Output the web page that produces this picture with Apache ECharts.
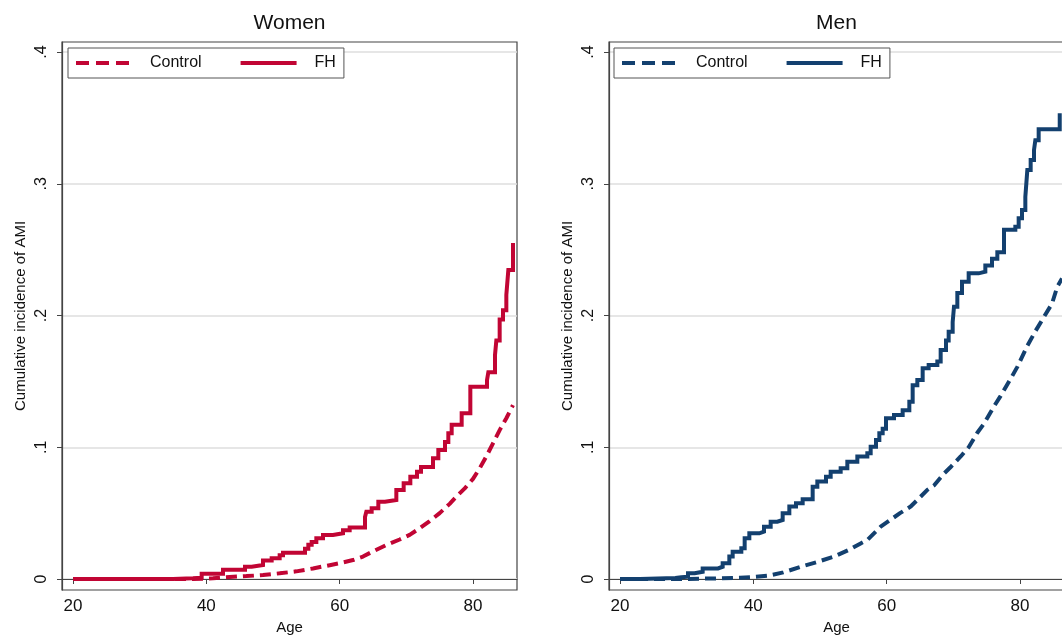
<!DOCTYPE html>
<html>
<head>
<meta charset="utf-8">
<script src="https://cdn.jsdelivr.net/npm/echarts@6/dist/echarts.min.js"></script>
<style>
html,body{margin:0;padding:0;background:#fff;}
#chart{width:1062px;height:637px;}
</style>
</head>
<body>
<div id="chart"></div>
<script>
// ---- Data ----
const panelTitles = ['Women', 'Men'];
const seriesNames = ['Control', 'FH'];
const xTickValues = [20, 40, 60, 80];
const yTickValues = [0, 0.1, 0.2, 0.3, 0.4];
const yTickLabels = ['0', '.1', '.2', '.3', '.4'];

// Women: [age, cumulative incidence]
const womenControl = [
  [20,0],[38,0],[41,0.0005],[43.5,0.0015],[46,0.0022],[48.5,0.003],[51,0.0043],[53.5,0.0058],
  [56,0.008],[58.5,0.0105],[60,0.012],[62,0.0144],[63.5,0.017],[65,0.021],[67,0.0258],
  [69,0.030],[70.5,0.0335],[72,0.0385],[73.5,0.044],[75,0.050],[76.5,0.057],[77.5,0.0625],
  [78.8,0.069],[80,0.076],[81,0.084],[82,0.093],[83,0.103],[84,0.113],[85,0.122],[86,0.132]
];
const womenFH = [
  [20,0],[35,0.0005],[38,0.001],[39.3,0.004],[42.5,0.007],[45.8,0.0093],[46.8,0.0106],
  [48.5,0.014],[49.8,0.0157],[51,0.018],[51.5,0.02],[54.8,0.023],[55.3,0.026],[55.8,0.028],
  [56.5,0.031],[57.5,0.0334],[59,0.0347],[60.5,0.037],[61.5,0.039],[63.8,0.047],[64,0.051],
  [64.8,0.0537],[65.8,0.0587],[66.8,0.06],[68.5,0.0675],[69.6,0.0726],[70.6,0.0777],
  [71.6,0.0815],[72.2,0.085],[74,0.0916],[74.8,0.098],[75.8,0.104],[76.3,0.1106],[76.8,0.117],
  [78.3,0.1258],[79.6,0.146],[82.1,0.151],[82.3,0.157],[83.3,0.170],[83.5,0.181],[84,0.197],
  [84.5,0.204],[85,0.2156],[85.3,0.2345],[86,0.255]
];
// Men
const menControl = [
  [20,0],[29.6,0],[35,0.0005],[38,0.001],[40,0.0015],[42.2,0.0025],[44.5,0.005],[47.1,0.0093],
  [49.5,0.0128],[52.1,0.017],[54.5,0.0225],[56.1,0.027],[57.1,0.0296],[59.1,0.0397],[60.6,0.045],
  [62,0.050],[63.6,0.055],[64.6,0.060],[66.1,0.0676],[67.1,0.071],[68.6,0.080],[69.6,0.085],
  [71.1,0.093],[72.3,0.100],[73.6,0.111],[74.6,0.118],[76.1,0.131],[77.1,0.139],[78.6,0.152],
  [79.6,0.161],[81.1,0.177],[82.3,0.188],[83.6,0.199],[84.8,0.209],[85.6,0.222],[86.3,0.228]
];
const menFH = [
  [20,0],[23,0.0008],[28.3,0.0013],[29.2,0.0018],[30.2,0.0043],[31.2,0.0055],[32.4,0.008],
  [34.7,0.0093],[35.4,0.012],[36.4,0.017],[36.9,0.0207],[38.2,0.0233],[38.7,0.031],[39.4,0.0347],
  [40.9,0.036],[41.6,0.0397],[42.6,0.0435],[43.6,0.0448],[44.4,0.050],[45.4,0.055],[46.4,0.0575],
  [47.4,0.0605],[48.9,0.070],[49.6,0.074],[50.9,0.0777],[51.6,0.0815],[53.1,0.084],[54.1,0.089],
  [55.6,0.093],[57.1,0.0954],[57.6,0.1004],[58.4,0.1055],[58.9,0.1106],[59.4,0.114],[59.9,0.122],
  [61.1,0.1245],[62.4,0.128],[63.4,0.1346],[63.9,0.147],[64.6,0.151],[65.4,0.160],[66.3,0.1624],
  [67.6,0.165],[68.1,0.1738],[68.9,0.181],[69.3,0.1877],[69.9,0.195],[70.1,0.2067],[70.6,0.217],
  [71.3,0.2257],[72.3,0.232],[73.8,0.2333],[74.8,0.238],[75.8,0.243],[76.6,0.248],[77.6,0.265],
  [79.3,0.2674],[79.8,0.2738],[80.3,0.280],[80.8,0.290],[81.1,0.3104],[81.6,0.318],[82.1,0.3256],
  [82.3,0.333],[82.8,0.3413],[85.96,0.3535]
];

// ---- Chart ----
const FONT = "'Liberation Sans', Arial, sans-serif";
const RED = '#c10534';
const NAVY = '#13406f';
const DASH = [11, 6];
const LW = 4;

const chart = echarts.init(document.getElementById('chart'), null, {renderer: 'canvas'});

const gridLefts = [62, 609];
const grids = gridLefts.map(l => ({
  left: l, top: 42, width: 455, height: 548,
  show: true, borderColor: '#444', borderWidth: 1.2, backgroundColor: '#fff',
  containLabel: false, outerBoundsMode: 'none'
}));

function xAxisFor(i) {
  return {
    type: 'value', gridIndex: i, min: 18.35, max: 86.6,
    name: 'Age', nameLocation: 'middle', nameGap: 29,
    nameTextStyle: {fontFamily: FONT, fontSize: 15, color: '#111'},
    axisLine: {show: true, lineStyle: {color: '#444', width: 1.2}},
    axisTick: {show: true, length: 5, lineStyle: {color: '#444'}, customValues: xTickValues},
    axisLabel: {fontFamily: FONT, fontSize: 17, color: '#111', margin: 8, customValues: xTickValues},
    splitLine: {show: false}
  };
}
function yAxisFor(i) {
  return {
    type: 'value', gridIndex: i, min: -0.00835, max: 0.4076,
    name: 'Cumulative incidence of AMI', nameLocation: 'middle', nameGap: 34,
    nameTextStyle: {fontFamily: FONT, fontSize: 15, color: '#111'},
    axisLine: {show: true, lineStyle: {color: '#444', width: 1.2}},
    axisTick: {show: true, length: 5, lineStyle: {color: '#444'}, customValues: yTickValues},
    axisLabel: {
      fontFamily: FONT, fontSize: 16, color: '#111', margin: 12, rotate: 90,
      customValues: yTickValues,
      formatter: v => { const k = yTickValues.findIndex(t => Math.abs(t - v) < 1e-9); return k >= 0 ? yTickLabels[k] : ''; }
    },
    splitLine: {show: true, lineStyle: {color: '#dedede', width: 1.5}}
  };
}

const panels = [
  {title: panelTitles[0], color: RED, control: womenControl, fh: womenFH, prefix: 'W '},
  {title: panelTitles[1], color: NAVY, control: menControl, fh: menFH, prefix: 'M '}
];

const series = [];
panels.forEach((p, i) => {
  series.push({
    name: p.prefix + seriesNames[0], type: 'line', xAxisIndex: i, yAxisIndex: i,
    data: p.control, symbol: 'none', showSymbol: false,
    lineStyle: {color: p.color, width: LW, type: DASH}, itemStyle: {color: p.color},
    animation: false
  });
  series.push({
    name: p.prefix + seriesNames[1], type: 'line', xAxisIndex: i, yAxisIndex: i,
    data: p.fh, step: 'end', symbol: 'none', showSymbol: false,
    lineStyle: {color: p.color, width: LW, type: 'solid', join: 'miter'}, itemStyle: {color: p.color},
    animation: false
  });
});

const titleCenters = [289.5, 836.5];
const legendLefts = [68, 614];
const legendLineTypes = [[13, 7], 'solid'];

chart.setOption({
  backgroundColor: '#fff',
  animation: false,
  title: panels.map((p, i) => ({
    text: p.title, left: titleCenters[i], top: 13, textAlign: 'center', padding: 0,
    textStyle: {fontFamily: FONT, fontSize: 21, fontWeight: 'normal', color: '#111'}
  })),
  legend: panels.map((p, i) => ({
    data: seriesNames.map((n, k) => ({name: p.prefix + n, lineStyle: {width: 4, type: legendLineTypes[k]}})),
    formatter: name => name.slice(2),
    left: legendLefts[i], top: 48, orient: 'horizontal',
    padding: [7, 8, 7, 6], itemGap: 37, itemWidth: 56, itemHeight: 18,
    backgroundColor: '#fff', borderColor: '#555', borderWidth: 1,
    itemStyle: {opacity: 0},
    selectedMode: false,
    textStyle: {fontFamily: FONT, fontSize: 16, color: '#111', padding: [0, 0, 0, 13]}
  })),
  grid: grids,
  xAxis: [xAxisFor(0), xAxisFor(1)],
  yAxis: [yAxisFor(0), yAxisFor(1)],
  series: series
});
</script>
</body>
</html>
